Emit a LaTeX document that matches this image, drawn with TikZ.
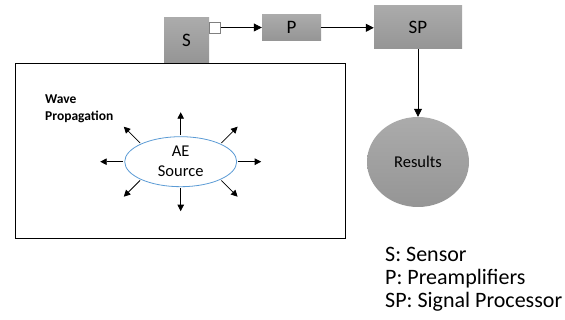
\documentclass[tikz,border=0pt]{standalone}
\usepackage{fontspec}
\setmainfont{Carlito}
\usetikzlibrary{shapes.geometric,arrows.meta,calc}

\definecolor{boxtop}{HTML}{ABABAB}
\definecolor{boxbot}{HTML}{959595}
\definecolor{aeblue}{HTML}{5B9BD5}

\tikzset{
  graybox/.style={draw=none, top color=boxtop, bottom color=boxbot, inner sep=0pt},
  flow/.style={thick, -{Triangle[length=8pt,width=8pt]}},
  wave/.style={thick, -{Triangle[length=6.5pt,width=6.5pt]}}
}

\begin{document}
\begin{tikzpicture}[x=1pt, y=-1pt]
% Set the page size (pixels of the reference)
\useasboundingbox (0,0) rectangle (565,320);

% Draw the specimen and the AE source
\draw[thick] (15,63) rectangle (345,238);
\node[anchor=north west, align=left, inner sep=0pt, font=\bfseries\fontsize{13.5}{17}\selectfont] (wp) at (45,95) {Wave\\Propagation};
\node[ellipse, draw=aeblue, thick, fill=white, minimum width=112, minimum height=50, inner sep=0pt, align=center, font=\fontsize{16.5}{20}\selectfont] (src) at (180.7,161.7) {AE\\Source};
\foreach \a in {0,45,...,315}
  \draw[wave] ($(src.center)+(\a:57.5pt and 26.5pt)$) -- ++(\a:23pt);

% Draw the measuring chain
\node[graybox, minimum width=45, minimum height=45, font=\fontsize{19}{22}\selectfont] (s) at (186.5,40.5) {S};
\node[draw=gray, fill=white, minimum size=11, inner sep=0pt, anchor=west] (sq) at (s.east |- 0,27.5) {};
\node[graybox, minimum width=59, minimum height=26, font=\fontsize{19}{22}\selectfont] (p) at (291.5,27.8) {P};
\node[graybox, minimum width=88, minimum height=43, font=\fontsize{19}{22}\selectfont] (sp) at (418,27.5) {SP};
\node[ellipse, graybox, minimum width=102, minimum height=90, font=\fontsize{16.5}{20}\selectfont] (res) at (418,162) {Results};
\draw[flow] (sq.east) -- (p.west |- sq.east);
\draw[flow] (p.east) -- (sp.west |- p.east);
\draw[flow] (sp.south) -- (res.north);

% Legend
\node[anchor=north west, align=left, inner sep=0pt, font=\fontsize{22}{23}\selectfont] (leg) at (385,247) {S: Sensor\\P: Preamplifiers\\SP: Signal Processor};
\end{tikzpicture}
\end{document}
